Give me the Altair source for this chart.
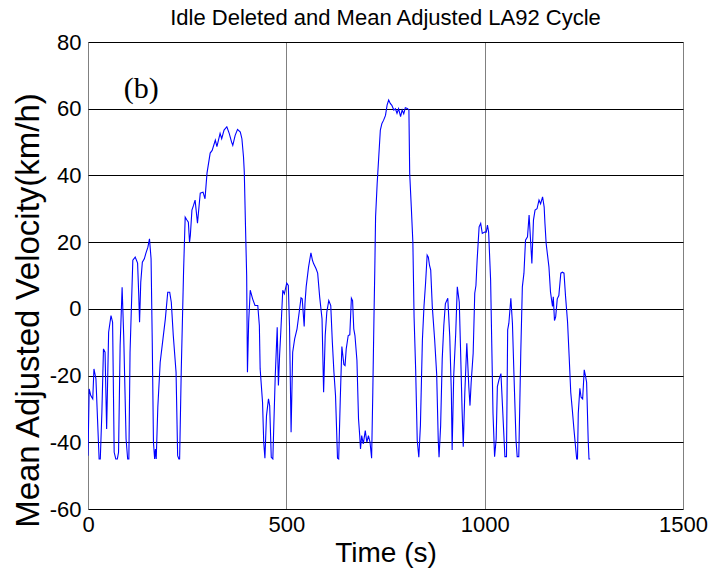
import altair as alt
import pandas as pd

# Idle-deleted, mean-adjusted LA92 drive cycle (time in s, velocity in km/h)
time_s = [
    0, 3, 7, 12, 15, 20, 24, 28, 31, 35, 39, 43, 47, 52, 58, 62, 66, 70, 74, 77,
    81, 86, 90, 96, 100, 103, 106, 113, 119, 125, 128, 130, 133, 137, 142, 146, 151, 155, 159, 162,
    165, 168, 170, 172, 176, 182, 189, 195, 201, 206, 210, 215, 222, 226, 229, 231, 235, 241, 245, 249,
    253, 256, 258, 262, 266, 270, 276, 283, 290, 295, 300, 308, 313, 321, 325, 333, 337, 343, 350, 356,
    362, 365, 371, 377, 384, 388, 392, 394, 397, 400, 402, 405, 409, 415, 421, 428, 432, 434, 440, 443,
    446, 450, 455, 458, 462, 466, 472, 477, 480, 483, 486, 491, 495, 501, 505, 508, 512, 516, 521, 527,
    533, 537, 540, 545, 547, 550, 556, 562, 566, 569, 575, 579, 584, 590, 594, 598, 602, 607, 612, 616,
    620, 624, 629, 632, 636, 640, 645, 648, 651, 656, 660, 664, 667, 670, 673, 678, 682, 685, 687, 690,
    694, 699, 703, 707, 711, 715, 718, 721, 723, 725, 729, 733, 737, 741, 745, 750, 754, 758, 762, 766,
    771, 775, 779, 783, 788, 792, 796, 800, 805, 809, 811, 815, 819, 822, 826, 830, 834, 838, 843, 847,
    851, 855, 858, 861, 864, 868, 874, 879, 883, 885, 889, 893, 897, 901, 907, 912, 916, 918, 922, 927,
    931, 936, 939, 943, 946, 950, 955, 960, 963, 966, 971, 975, 978, 981, 986, 990, 994, 1000, 1004, 1007,
    1010, 1015, 1018, 1021, 1025, 1029, 1032, 1036, 1041, 1045, 1049, 1051, 1055, 1058, 1061, 1066, 1070, 1074, 1079, 1082,
    1086, 1091, 1095, 1099, 1103, 1108, 1112, 1116, 1119, 1123, 1127, 1132, 1137, 1141, 1146, 1150, 1152, 1155, 1162, 1166,
    1171, 1173, 1176, 1179, 1183, 1187, 1192, 1196, 1200, 1204, 1209, 1213, 1217, 1221, 1225, 1230, 1232, 1234, 1236, 1240,
    1243, 1247, 1251, 1254, 1257, 1261, 1263, 1266,
]
velocity_kmh = [
    -44, -24, -26, -27, -18, -21, -33, -45, -45, -31, -12, -13, -36, -7, -2, -4, -43, -45, -45, -43,
    -11, 6.5, -8, -39, -45, -45, -13, 14.6, 15.5, 13.7, 4, -4, 8, 14, 15, 16.7, 18.5, 21, 15, -10,
    -40, -45, -42, -45, -29.5, -16, -9, -3, 5, 5, 2, -8, -19, -44, -45, -45, -19, 11.6, 27.5, 26.7,
    26, 20, 22, 29.6, 31, 32.6, 25.7, 34.7, 35, 33, 40.7, 46.7, 47.5, 50.6, 48.6, 52.6, 51, 53.6, 54.6, 52.6,
    50, 49, 52, 53.8, 53, 51, 45.6, 41, 25, 10, -19, -4, 5.6, 3, 1, 1, -5, -18, -28, -40,
    -44.8, -32, -27, -29, -44.5, -45, -20.3, -5.5, -23, -14, -7, 5.6, 4.5, 7.7, 7, -5, -37, -13, -9, -6,
    -0.5, 3.3, 3, -5.3, 1.6, 6.6, 12.5, 16.8, 14.5, 13.5, 12, 10.7, 3.6, -3, -25, -8, -1, 2.5, 1, -10,
    -19, -26, -44.8, -45, -27, -11.3, -16.7, -17, -12, -8, -7.8, 3.2, 2.5, -6, -8, -15.5, -33, -38, -42, -38,
    -40.5, -36.5, -40, -38, -40, -44.8, -25, -2, 11.6, 27.6, 37.6, 45.6, 53.6, 55.6, 56.5, 58, 61.1, 62.6, 61.6, 61,
    59.6, 60, 58.6, 60, 57.6, 59.6, 58.5, 60.3, 60.1, 59.6, 40.6, 30.6, 20, -2.3, -18, -39.4, -44.5, -35, -9.4, 0.7,
    7.7, 16.1, 15.5, 13, 11.6, 0.6, -9.4, -19.5, -39.4, -44.5, -35, -15, -5, 1.6, 3.2, -8.3, -25, -42.3, -20, -7.4,
    6.6, 2, -11.3, -30, -41.3, -25, -10.3, -23.3, -29, -22, -13.3, 4.7, 7, 14.6, 24.6, 25.6, 22.6, 23, 23, 25.1,
    23, 8.6, -11.3, -31.3, -44.3, -39, -23.3, -21.3, -19.4, -29.3, -39.3, -44.3, -44.3, -6.3, -4.3, 3.2, -4.3, -20.3, -39.3, -44.3,
    -44.3, -13.3, 6.6, 10.7, 20.6, 21.6, 28.1, 20, 13.6, 26.6, 29.6, 30, 32.6, 31.5, 33.6, 30.5, 25.6, 19.6, 12.6, 5,
    0.7, 3.6, -3.5, -2.4, 3, 4, 10.7, 11, 10.7, 3.6, -4, -14.3, -25, -30.3, -36, -42.5, -45, -45, -31.3, -23.8,
    -26.5, -27, -18.3, -20, -22, -39.3, -45, -45,
]

x_ticks = [0, 500, 1000, 1500]
y_ticks = [-60, -40, -20, 0, 20, 40, 60, 80]

panel_label = ["(b)"]
panel_label_t = [134]
panel_label_v = [66]

FONT = "Liberation Sans"

cycle = pd.DataFrame({"t": time_s, "v": velocity_kmh})
labels = pd.DataFrame({"t": panel_label_t, "v": panel_label_v, "text": panel_label})

x_scale = alt.Scale(domain=[0, 1500], nice=False, zero=False)
y_scale = alt.Scale(domain=[-60, 80], nice=False, zero=False)

line = alt.Chart(cycle).mark_line(color="#0000ff", strokeWidth=1.1, clip=True).encode(
    x=alt.X(
        "t:Q",
        scale=x_scale,
        axis=alt.Axis(
            values=x_ticks,
            labelExpr="'' + datum.value",
            title="Time (s)",
            titleFont=FONT,
            titleFontSize=28,
            titleFontWeight="normal",
            titleColor="black",
            titlePadding=4,
            labelFont=FONT,
            labelFontSize=22,
            labelColor="black",
            labelPadding=5,
            labelFlush=False,
            ticks=False,
            domain=False,
            grid=True,
            gridColor="#808080",
            gridWidth=1,
            gridOpacity=1,
        ),
    ),
    y=alt.Y(
        "v:Q",
        scale=y_scale,
        axis=alt.Axis(
            values=y_ticks,
            labelExpr="'' + datum.value",
            title="Mean Adjusted Velocity(km/h)",
            titleFont=FONT,
            titleFontSize=33,
            titleFontWeight="normal",
            titleColor="black",
            titleX=-60,
            titleY=268,
            titleAlign="center",
            titleBaseline="middle",
            titleAngle=270,
            labelFont=FONT,
            labelFontSize=22,
            labelColor="black",
            labelPadding=7,
            labelFlush=False,
            ticks=False,
            domain=False,
            grid=True,
            gridColor="#000000",
            gridWidth=1,
            gridOpacity=1,
        ),
    ),
)

panel = alt.Chart(labels).mark_text(
    font="Liberation Serif", fontSize=30, color="black", align="center", baseline="middle"
).encode(
    x=alt.X("t:Q", scale=x_scale),
    y=alt.Y("v:Q", scale=y_scale),
    text="text:N",
)

chart = (
    alt.layer(line, panel)
    .properties(
        width=595,
        height=467,
        title=alt.TitleParams(
            "Idle Deleted and Mean Adjusted LA92 Cycle",
            font=FONT,
            fontSize=22,
            fontWeight="normal",
            color="black",
            anchor="middle",
            offset=1,
        ),
        autosize=alt.AutoSizeParams(type="none"),
        padding={"left": 88, "top": 42, "right": 29, "bottom": 67},
    )
    .configure_view(stroke="black", strokeWidth=1)
    .configure(background="white")
)

chart.save("out.html", embed_options={"renderer": "svg", "actions": False})
